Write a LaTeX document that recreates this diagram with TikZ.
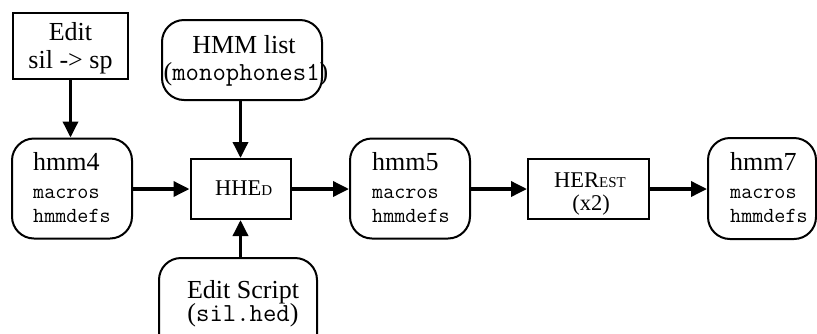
\documentclass[tikz,border=0pt]{standalone}
\usepackage{fontspec}
\setmainfont{Liberation Serif}
\usetikzlibrary{arrows.meta}
\tikzset{x=1pt,y=-1pt,
  sqbox/.style={draw,line width=2pt,inner sep=0pt},
  rndbox/.style={draw,line width=2pt,rounded corners=22pt,inner sep=0pt},
  arr/.style={line width=3.5pt,-{Triangle[length=16pt,width=15pt]}},
  rmtxt/.style={font=\fontsize{26}{28}\selectfont,inner sep=0pt,anchor=base},
  rmleft/.style={rmtxt,anchor=base west},
  smtxt/.style={font=\fontsize{22.5}{24}\selectfont,inner sep=0pt,anchor=base},
  tttxt/.style={font=\fontsize{21.5}{24}\selectfont\ttfamily,inner sep=0pt,anchor=base west}}
\newcommand{\smc}[1]{{\fontsize{15}{15}\selectfont #1}}
\begin{document}
\begin{tikzpicture}
\clip (0,0) rectangle (817,333);
% boxes
\node[sqbox,minimum width=115pt,minimum height=66pt] (edit) at (70.5,46) {};
\node[rndbox,minimum width=160pt,minimum height=80pt] (hmmlist) at (242,60) {};
\node[rndbox,minimum width=120pt,minimum height=100pt] (hmm4) at (72,188.5) {};
\node[sqbox,minimum width=100pt,minimum height=60pt] (hhed) at (240.5,189) {};
\node[rndbox,minimum width=158pt,minimum height=100pt] (script) at (238,308) {};
\node[rndbox,minimum width=120pt,minimum height=100pt] (hmm5) at (410,188.5) {};
\node[sqbox,minimum width=121pt,minimum height=60pt] (herest) at (588.5,189) {};
\node[rndbox,minimum width=108pt,minimum height=101pt] (hmm7) at (762,188.5) {};
% texts
\node[rmtxt] (edit1) at (70.5,40) {Edit};
\node[rmtxt] (edit2) at (70.5,68) {sil -> sp};
\node[rmtxt] (list1) at (244,53.3) {HMM list};
\node[rmtxt] (list2) at (246,80) {(\texttt{monophones1})};
\node[rmleft] (h4a) at (33,170) {hmm4};
\node[tttxt] (h4b) at (33,198) {macros};
\node[tttxt] (h4c) at (33,222.7) {hmmdefs};
\node[smtxt] (hh) at (243.7,195) {HHE\smc{D}};
\node[rmtxt] (sc1) at (243,298) {Edit Script};
\node[rmtxt] (sc2) at (243,321.7) {(\texttt{sil.hed})};
\node[rmleft] (h5a) at (372,170) {hmm5};
\node[tttxt] (h5b) at (372,198) {macros};
\node[tttxt] (h5c) at (372,222.7) {hmmdefs};
\node[smtxt] (he1) at (590,187.3) {HER\smc{EST}};
\node[smtxt] (he2) at (591,210.7) {(x2)};
\node[rmleft] (h7a) at (730,170) {hmm7};
\node[tttxt] (h7b) at (730,198) {macros};
\node[tttxt] (h7c) at (730,222.7) {hmmdefs};
% arrows
\draw[arr] (edit.south) -- (edit.south |- hmm4.north);
\draw[arr] (hhed.north |- hmmlist.south) -- (hhed.north);
\draw[arr] (hhed.south |- script.north) -- (hhed.south);
\draw[arr] (hmm4.east |- hhed.west) -- (hhed.west);
\draw[arr] (hhed.east) -- (hmm5.west |- hhed.east);
\draw[arr] (hmm5.east |- herest.west) -- (herest.west);
\draw[arr] (herest.east) -- (hmm7.west |- herest.east);
\end{tikzpicture}
\end{document}
